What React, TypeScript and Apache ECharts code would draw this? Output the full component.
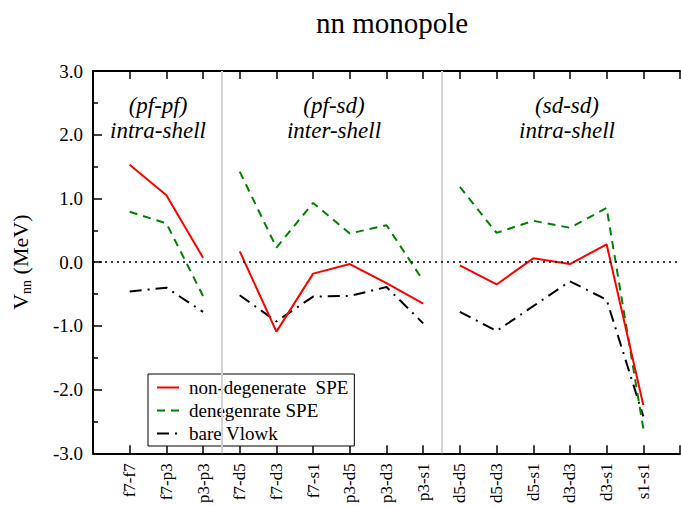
import React, { useEffect, useRef } from "react";
import * as echarts from "echarts";

const categories = [
  "f7-f7", "f7-p3", "p3-p3",
  "f7-d5", "f7-d3", "f7-s1", "p3-d5", "p3-d3", "p3-s1",
  "d5-d5", "d5-d3", "d5-s1", "d3-d3", "d3-s1", "s1-s1",
];
const groupSizes = [3, 6, 6];
const groupTitles = ["(pf-pf)", "(pf-sd)", "(sd-sd)"];
const groupSubtitles = ["intra-shell", "inter-shell", "intra-shell"];

const nonDegenerate = [1.53, 1.05, 0.07, 0.17, -1.09, -0.18, -0.03, -0.33, -0.65, -0.05, -0.35, 0.06, -0.03, 0.28, -2.24];
const degenerate = [0.79, 0.61, -0.53, 1.42, 0.23, 0.93, 0.45, 0.58, -0.29, 1.18, 0.46, 0.65, 0.54, 0.85, -2.61];
const bareVlowk = [-0.46, -0.40, -0.78, -0.52, -0.93, -0.54, -0.53, -0.39, -0.96, -0.78, -1.08, -0.69, -0.30, -0.59, -2.42];

const yTicks = [-3, -2, -1, 0, 1, 2, 3];

const FONT = "Liberation Serif";

function separators(): number[] {
  const out: number[] = [];
  let acc = 0;
  for (let g = 0; g < groupSizes.length - 1; g++) {
    acc += groupSizes[g];
    out.push(acc + 0.5);
  }
  return out;
}

function buildData(values: number[]): any[] {
  const data: any[] = [];
  let idx = 0;
  groupSizes.forEach((size, g) => {
    for (let k = 0; k < size; k++) {
      data.push([idx + 1, values[idx]]);
      idx++;
    }
    if (g < groupSizes.length - 1) data.push([idx + 0.5, "-"]);
  });
  return data;
}

export default function App() {
  const ref = useRef<HTMLDivElement>(null);
  useEffect(() => {
    if (!ref.current) return;
    const chart = echarts.init(ref.current, undefined, { renderer: "svg" });
    const seps = separators();
    const xMax = categories.length + 1;
    const gridLeft = 93;
    const gridRight = 1;
    const gridTop = 71;
    const gridBottom = 49;

    const annotX = [158, 334, 567];
    const graphics: any[] = [];
    groupTitles.forEach((t, g) => {
      const cx = annotX[g];
      graphics.push({
        type: "text", x: cx, y: 105,
        style: { text: t, fontFamily: FONT, fontStyle: "italic", fontSize: 23, fill: "#000", align: "center", verticalAlign: "middle" },
      });
      graphics.push({
        type: "text", x: cx, y: 130,
        style: { text: groupSubtitles[g], fontFamily: FONT, fontStyle: "italic", fontSize: 23, fill: "#000", align: "center", verticalAlign: "middle" },
      });
    });

    const xAxisCommon = {
      type: "value",
      min: 0,
      max: xMax,
      interval: 1,
      splitLine: { show: false },
      axisLine: { show: true, onZero: false, lineStyle: { color: "#000", width: 2 } },
      axisTick: { show: true, inside: true, length: 8, lineStyle: { color: "#000", width: 1.5 } },
    };

    chart.setOption({
      animation: false,
      backgroundColor: "#fff",
      textStyle: { fontFamily: FONT },
      title: {
        text: "nn monopole",
        left: 387,
        textAlign: "center",
        top: 3,
        textStyle: { fontFamily: FONT, fontSize: 29, fontWeight: "normal", color: "#000" },
      },
      grid: { left: gridLeft, right: gridRight, top: gridTop, bottom: gridBottom, containLabel: false },
      legend: {
        left: 148,
        top: 374,
        orient: "vertical",
        backgroundColor: "#fff",
        borderColor: "#000",
        borderWidth: 1,
        borderRadius: 0,
        padding: [4, 6, 3, 8],
        itemGap: 4,
        itemWidth: 22,
        itemHeight: 10,
        itemStyle: { color: "rgba(0,0,0,0)", borderWidth: 0, opacity: 0 },
        textStyle: { fontFamily: FONT, fontSize: 19, color: "#000", lineHeight: 19, padding: [0, 0, 0, 5] },
        data: ["non-degenerate  SPE", "denegenrate SPE", "bare Vlowk"],
      },
      xAxis: [
        {
          ...xAxisCommon,
          position: "bottom",
          axisLabel: {
            show: true,
            rotate: 90,
            margin: 10,
            fontFamily: FONT,
            fontSize: 17,
            color: "#000",
            formatter: (v: number) => (Number.isInteger(v) && v >= 1 && v <= categories.length ? categories[v - 1] : ""),
          },
        },
        {
          ...xAxisCommon,
          position: "top",
          axisLabel: { show: false },
        },
      ],
      yAxis: {
        type: "value",
        min: yTicks[0],
        max: yTicks[yTicks.length - 1],
        interval: 1,
        splitLine: { show: false },
        axisLine: { show: true, onZero: false, lineStyle: { color: "#000", width: 2 } },
        axisTick: { show: true, inside: true, length: 9, lineStyle: { color: "#000", width: 1.5 } },
        minorTick: { show: true, splitNumber: 2, length: 5, lineStyle: { color: "#000", width: 1.5 } },
        axisLabel: {
          fontFamily: FONT,
          fontSize: 19,
          color: "#000",
          margin: 10,
          formatter: (v: number) => v.toFixed(1),
        },
        name: "{v|V}{s|nn}{v| (MeV)}",
        nameLocation: "middle",
        nameRotate: 90,
        nameGap: 60,
        nameTextStyle: {
          fontFamily: FONT,
          rich: {
            v: { fontFamily: FONT, fontSize: 22, color: "#000" },
            s: { fontFamily: FONT, fontSize: 14, color: "#000", padding: [12, 0, 0, 0] },
          },
        },
      },
      graphic: graphics,
      series: [
        {
          name: "non-degenerate  SPE",
          type: "line",
          data: buildData(nonDegenerate),
          showSymbol: false,
          symbol: "none",
          connectNulls: false,
          lineStyle: { color: "#ff0000", width: 2, type: "solid" },
          itemStyle: { color: "#ff0000" },
          z: 3,
          markLine: {
            silent: true,
            symbol: "none",
            label: { show: false },
            data: [
              ...seps.map((s) => ({ xAxis: s, lineStyle: { color: "#d3d3d3", width: 2, type: "solid" } })),
              { yAxis: 0, lineStyle: { color: "#000", width: 1.5, type: [2, 4] } },
            ],
          },
        },
        {
          name: "denegenrate SPE",
          type: "line",
          data: buildData(degenerate),
          showSymbol: false,
          symbol: "none",
          connectNulls: false,
          lineStyle: { color: "#008000", width: 2, type: [8, 6] },
          itemStyle: { color: "#008000" },
          z: 2,
        },
        {
          name: "bare Vlowk",
          type: "line",
          data: buildData(bareVlowk),
          showSymbol: false,
          symbol: "none",
          connectNulls: false,
          lineStyle: { color: "#000", width: 2, type: [12, 6, 2, 6] },
          itemStyle: { color: "#000" },
          z: 1,
        },
      ],
    });
    return () => chart.dispose();
  }, []);
  return <div ref={ref} style={{ position: "absolute", left: 0, top: 0, width: 681, height: 506 }} />;
}
